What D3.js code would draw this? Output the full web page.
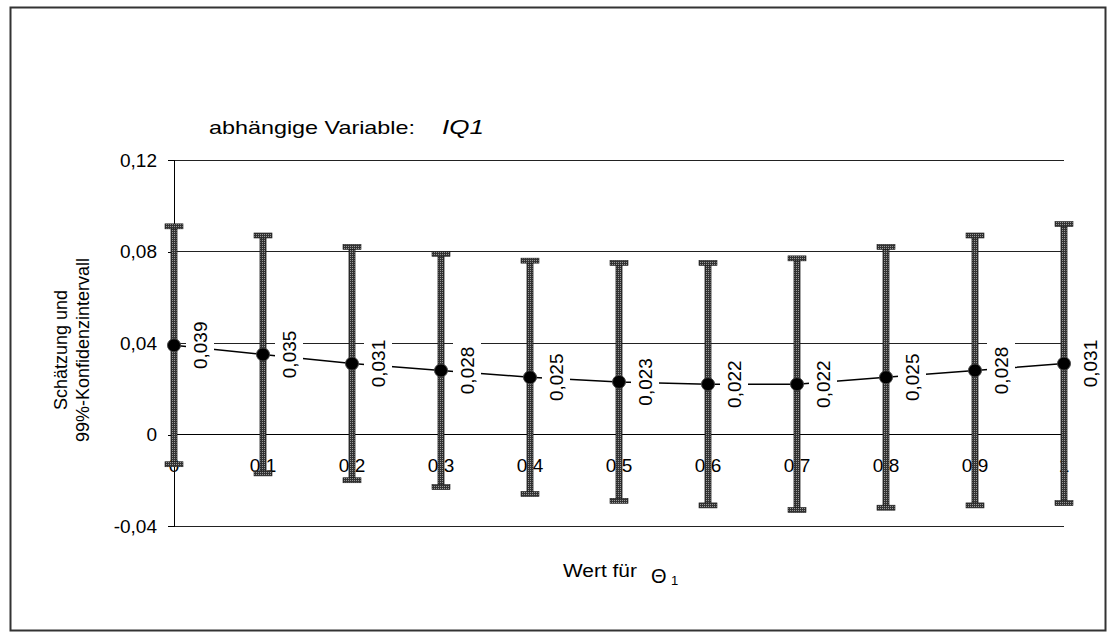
<!DOCTYPE html>
<html>
<head>
<meta charset="utf-8">
<script src="https://cdn.jsdelivr.net/npm/d3@7"></script>
<style>
  body { margin: 0; background: #fff; }
  svg text { font-family: "Liberation Sans", Arial, sans-serif; fill: #000; }
</style>
</head>
<body>
<div id="chart"></div>
<script>
// Werte
const thetaValues = [0, 0.1, 0.2, 0.3, 0.4, 0.5, 0.6, 0.7, 0.8, 0.9, 1];
const thetaLabels = ["0", "0,1", "0,2", "0,3", "0,4", "0,5", "0,6", "0,7", "0,8", "0,9", "1"];
const estimates = [0.039, 0.035, 0.031, 0.028, 0.025, 0.023, 0.022, 0.022, 0.025, 0.028, 0.031];
const upperCI = [0.091, 0.087, 0.082, 0.079, 0.076, 0.075, 0.075, 0.077, 0.082, 0.087, 0.092];
const lowerCI = [-0.013, -0.017, -0.020, -0.023, -0.026, -0.029, -0.031, -0.033, -0.032, -0.031, -0.030];
const yTicks = [-0.04, 0, 0.04, 0.08, 0.12];

const width = 1117, height = 632;
const plot = { left: 174, right: 1064, top: 160, bottom: 526 };

const de = d3.formatLocale({ decimal: ",", thousands: ".", grouping: [3], currency: ["", " €"], minus: "-" });
const fmtTick = v => v === 0 ? "0" : de.format(".2f")(v);
const fmtLabel = de.format(".3f");

const svg = d3.select('#chart').append('svg')
    .attr('width', width)
    .attr('height', height);

// Muster fuer die Fehlerbalken
const defs = svg.append('defs');
const pat = defs.append('pattern')
    .attr('id', 'stip')
    .attr('width', 2).attr('height', 2)
    .attr('patternUnits', 'userSpaceOnUse');
pat.append('rect').attr('width', 2).attr('height', 2).attr('fill', '#333');
pat.append('rect').attr('width', 1).attr('height', 1).attr('fill', '#9a9a9a');

// Rahmen
svg.append('rect')
    .attr('x', 10.5).attr('y', 7.5)
    .attr('width', 1095).attr('height', 623)
    .attr('fill', 'none')
    .attr('stroke', '#333')
    .attr('stroke-width', 2);

const x = d3.scaleLinear().domain([0, 1]).range([plot.left, plot.right]);
const y = d3.scaleLinear().domain([-0.04, 0.12]).range([plot.bottom, plot.top]);

// Gitterlinien
svg.append('g').selectAll('line')
    .data(yTicks)
    .join('line')
    .attr('x1', plot.left).attr('x2', plot.right)
    .attr('y1', d => y(d)).attr('y2', d => y(d))
    .attr('stroke', d => d === 0 ? '#000' : '#222')
    .attr('stroke-width', 1)
    .attr('shape-rendering', 'crispEdges');

// y-Achse
const yAxis = svg.append('g')
    .attr('transform', `translate(${plot.left},0)`)
    .call(d3.axisLeft(y).tickValues(yTicks).tickFormat(fmtTick).tickSize(6).tickPadding(11));
yAxis.select('.domain').attr('stroke', '#000').attr('shape-rendering', 'crispEdges');
yAxis.selectAll('.tick line').attr('stroke', '#000').attr('shape-rendering', 'crispEdges');
yAxis.selectAll('.tick text')
    .style('font-size', '19px')
    .style('font-family', '"Liberation Sans", Arial, sans-serif');

// x-Beschriftungen (liegen unter den Balken)
svg.append('g').selectAll('text')
    .data(thetaValues)
    .join('text')
    .attr('x', d => x(d))
    .attr('y', 472)
    .attr('text-anchor', 'middle')
    .style('font-size', '19px')
    .text((d, i) => thetaLabels[i]);

// Konfidenzintervalle
const bars = svg.append('g');
thetaValues.forEach((t, i) => {
    const cx = x(t);
    bars.append('rect')
        .attr('x', cx - 3)
        .attr('y', y(upperCI[i]))
        .attr('width', 6)
        .attr('height', y(lowerCI[i]) - y(upperCI[i]))
        .attr('fill', 'url(#stip)')
        .attr('stroke', '#1a1a1a')
        .attr('stroke-width', 0.8);
    [upperCI[i], lowerCI[i]].forEach(v => {
        bars.append('rect')
            .attr('x', cx - 9)
            .attr('y', y(v) - 2.5)
            .attr('width', 18)
            .attr('height', 5)
            .attr('fill', 'url(#stip)')
            .attr('stroke', '#1a1a1a')
            .attr('stroke-width', 0.6);
    });
});

// Verbindungslinie der Schaetzer
const line = d3.line()
    .x((d, i) => x(thetaValues[i]))
    .y(d => y(d));
svg.append('path')
    .datum(estimates)
    .attr('d', line)
    .attr('fill', 'none')
    .attr('stroke', '#000')
    .attr('stroke-width', 1.5);

// Datenbeschriftungen mit weissem Hintergrund
const labels = svg.append('g');
estimates.forEach((v, i) => {
    const lx = x(thetaValues[i]) + 26;
    const ly = y(v);
    labels.append('rect')
        .attr('x', lx - 14)
        .attr('y', ly - 30)
        .attr('width', 28)
        .attr('height', 60)
        .attr('fill', '#fff');
    labels.append('text')
        .attr('transform', `translate(${lx},${ly}) rotate(-90)`)
        .attr('text-anchor', 'middle')
        .attr('dy', '0.35em')
        .style('font-size', '19px')
        .text(fmtLabel(v));
});

// Punkte
svg.append('g').selectAll('circle')
    .data(estimates)
    .join('circle')
    .attr('cx', (d, i) => x(thetaValues[i]))
    .attr('cy', d => y(d))
    .attr('r', 6.5)
    .attr('fill', '#000')
    .attr('stroke', '#444')
    .attr('stroke-width', 1);

// Titel (horizontal etwas breiter gesetzt wie in der Vorlage)
svg.append('text')
    .attr('transform', 'translate(209,134) scale(1.23,1)')
    .style('font-size', '19px')
    .text('abhängige Variable:');
svg.append('text')
    .attr('transform', 'translate(442,134) scale(1.3,1)')
    .style('font-size', '20px')
    .style('font-style', 'italic')
    .text('IQ1');

// y-Achsentitel
const yTitle = svg.append('text')
    .attr('transform', 'translate(0,350) rotate(-90)')
    .attr('text-anchor', 'middle')
    .style('font-size', '18px');
yTitle.append('tspan').attr('x', 0).attr('y', 67).text('Schätzung und');
yTitle.append('tspan').attr('x', 0).attr('y', 89).text('99%-Konfidenzintervall');

// x-Achsentitel
svg.append('text')
    .attr('transform', 'translate(563,577) scale(1.1,1)')
    .style('font-size', '19px')
    .text('Wert für');
svg.append('text')
    .attr('x', 651).attr('y', 583)
    .style('font-size', '20px')
    .text('Θ');
svg.append('text')
    .attr('x', 671).attr('y', 585)
    .style('font-size', '13px')
    .text('1');
</script>
</body>
</html>
